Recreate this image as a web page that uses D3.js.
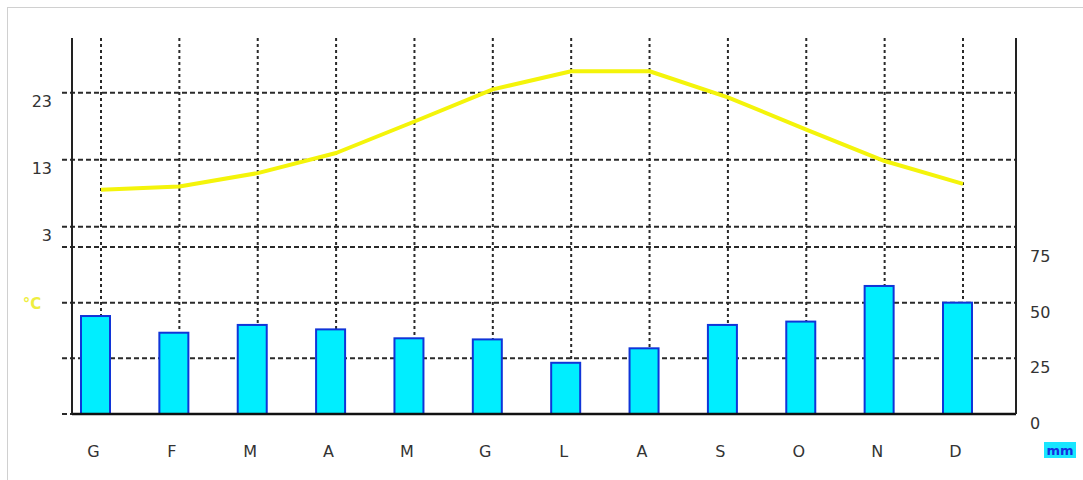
<!DOCTYPE html>
<html>
<head>
<meta charset="utf-8">
<script src="https://cdn.jsdelivr.net/npm/d3@7"></script>
<style>
  body { margin: 0; background: #fff; }
  text { font-family: 'DejaVu Sans', sans-serif; fill: #333; }
</style>
</head>
<body>
<div id="chart"></div>
<script>
// climate chart: temperature (line, left) + rainfall (bars, right)
const months = ['G', 'F', 'M', 'A', 'M', 'G', 'L', 'A', 'S', 'O', 'N', 'D'];
const temps = [8.5, 9.0, 11.0, 14.0, 18.7, 23.5, 26.2, 26.2, 22.3, 17.5, 12.8, 9.4];
const rain = [44, 36.5, 40, 38, 34, 33.5, 23, 29.5, 40, 41.5, 57.5, 50];
const tempTicks = [3, 13, 23];
const rainTicks = [0, 25, 50, 75];

const width = 1083;
const height = 480;

const svg = d3.select('#chart')
    .append('svg')
    .attr('width', width)
    .attr('height', height);

// light frame, only top & left visible
svg.append('rect')
    .attr('x', 7.5)
    .attr('y', 7.5)
    .attr('width', 1200)
    .attr('height', 600)
    .attr('fill', 'none')
    .attr('stroke', '#d0d0d0');

const plotLeft = 72, plotRight = 1016, plotTop = 38, plotBottom = 414;

const x = d3.scalePoint()
    .domain(d3.range(months.length))
    .range([101, 963]);

const yT = d3.scaleLinear()
    .domain([3, 23])
    .range([226.7, 92.7]);

const yR = d3.scaleLinear()
    .domain([0, 75])
    .range([414, 247]);

const grid = svg.append('g');

// vertical gridlines
grid.selectAll('.vg')
    .data(d3.range(months.length))
    .enter()
    .append('line')
    .attr('x1', (d) => x(d))
    .attr('x2', (d) => x(d))
    .attr('y1', plotTop)
    .attr('y2', plotBottom)
    .attr('stroke', '#2a2a2a')
    .attr('stroke-width', 2)
    .attr('stroke-dasharray', '3,3');

// horizontal gridlines for both scales
const hLines = tempTicks.map((t) => yT(t)).concat(rainTicks.map((r) => yR(r)));
grid.selectAll('.hg')
    .data(hLines)
    .enter()
    .append('line')
    .attr('x1', 62)
    .attr('x2', plotRight)
    .attr('y1', (d) => d)
    .attr('y2', (d) => d)
    .attr('stroke', '#2a2a2a')
    .attr('stroke-width', 2)
    .attr('stroke-dasharray', '5,3');

// bars
svg.selectAll('.bar')
    .data(rain)
    .enter()
    .append('rect')
    .attr('x', (d, i) => x(i) - 5.5 - 14.5)
    .attr('y', (d) => yR(d))
    .attr('width', 29)
    .attr('height', (d) => yR(0) - yR(d))
    .attr('fill', '#00eeff')
    .attr('stroke', '#1035d8')
    .attr('stroke-width', 2);

// baseline
svg.append('line')
    .attr('x1', plotLeft)
    .attr('x2', plotRight)
    .attr('y1', plotBottom)
    .attr('y2', plotBottom)
    .attr('stroke', '#111')
    .attr('stroke-width', 2.5);

// axes lines
svg.append('line')
    .attr('x1', plotLeft).attr('x2', plotLeft)
    .attr('y1', plotTop).attr('y2', plotBottom)
    .attr('stroke', '#222').attr('stroke-width', 2);
svg.append('line')
    .attr('x1', plotRight).attr('x2', plotRight)
    .attr('y1', plotTop).attr('y2', plotBottom)
    .attr('stroke', '#222').attr('stroke-width', 2);

// temperature line
const line = d3.line()
    .x((d, i) => x(i))
    .y((d) => yT(d));

svg.append('path')
    .datum(temps)
    .attr('d', line)
    .attr('fill', 'none')
    .attr('stroke', '#f4f40a')
    .attr('stroke-width', 4)
    .attr('stroke-linejoin', 'round');

// left labels
svg.selectAll('.tl')
    .data(tempTicks)
    .enter()
    .append('text')
    .attr('x', 52)
    .attr('y', (d) => yT(d) + 14)
    .attr('text-anchor', 'end')
    .style('font-size', '16px')
    .text((d) => d);

svg.append('text')
    .attr('x', 32)
    .attr('y', yR(50) + 6)
    .attr('text-anchor', 'middle')
    .style('font-size', '15px')
    .style('fill', '#eeee40')
    .style('font-weight', 'bold')
    .text('°C');

// right labels
svg.selectAll('.rl')
    .data(rainTicks)
    .enter()
    .append('text')
    .attr('x', 1030)
    .attr('y', (d) => yR(d) + 15)
    .style('font-size', '16px')
    .text((d) => d);

// month labels
svg.selectAll('.ml')
    .data(months)
    .enter()
    .append('text')
    .attr('x', (d, i) => x(i) - 7.5)
    .attr('y', 457)
    .attr('text-anchor', 'middle')
    .style('font-size', '16px')
    .text((d) => d);

// mm unit badge
svg.append('rect')
    .attr('x', 1044)
    .attr('y', 442)
    .attr('width', 32)
    .attr('height', 16)
    .attr('fill', '#19e6ff');
svg.append('text')
    .attr('x', 1060)
    .attr('y', 455)
    .attr('text-anchor', 'middle')
    .style('font-size', '13px')
    .style('font-weight', 'bold')
    .style('fill', '#1530e0')
    .text('mm');
</script>
</body>
</html>
